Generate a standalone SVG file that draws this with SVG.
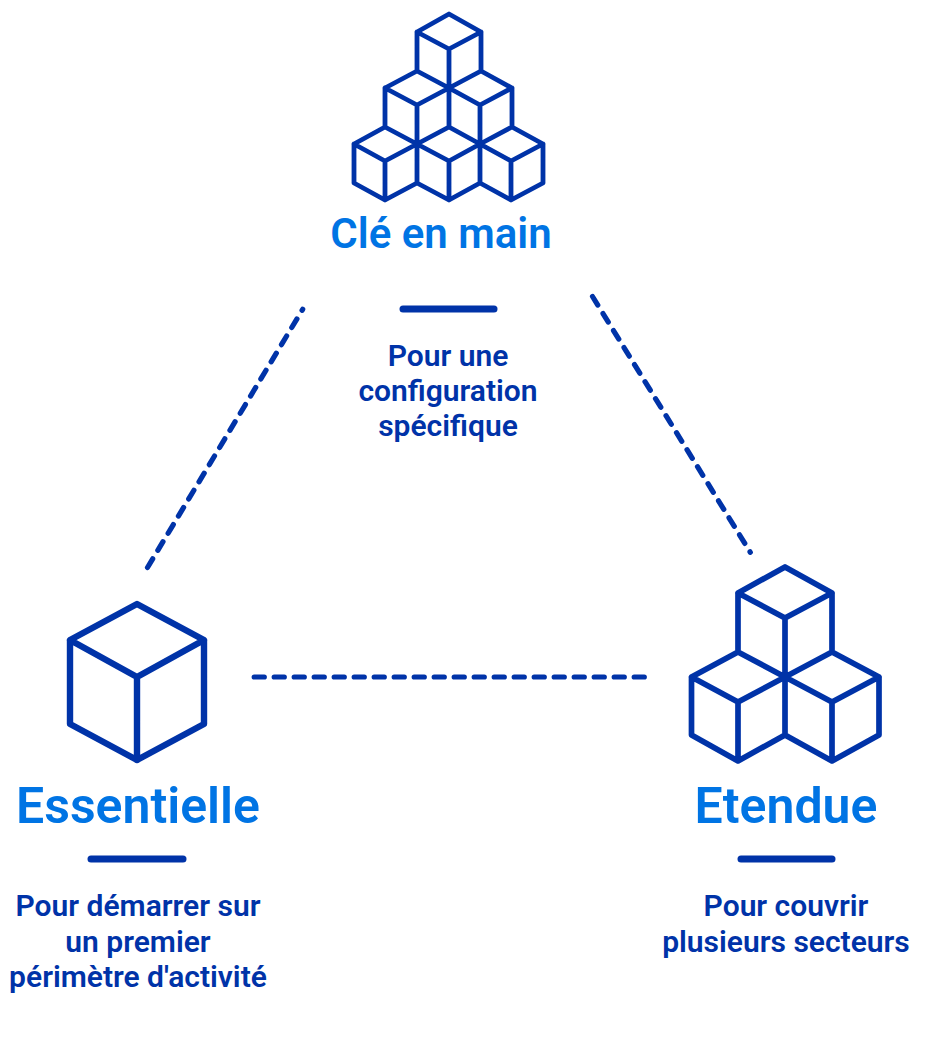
<svg xmlns="http://www.w3.org/2000/svg" width="945" height="1057" viewBox="0 0 945 1057">
<style>
.c{fill:none;stroke:#0033a8;stroke-linejoin:round;stroke-linecap:round}
.s{stroke-width:4.8}.m{stroke-width:5.7}
.d{fill:none;stroke:#0033a8;stroke-width:5.2;stroke-linecap:round;stroke-dasharray:10.1 9.9}
.b{stroke:#0033a8;stroke-width:7;stroke-linecap:round}
text{font-family:Roboto,"Liberation Sans",sans-serif;text-anchor:middle}
.t{fill:#0074e4;font-weight:600}
.p{fill:#0033a8;font-size:30px;font-weight:600}
</style>
<rect width="945" height="1057" fill="#fff"/>
<g id="connectors">
<path class="d" d="M147.5 567.5L302.7 309.3"/>
<path class="d" d="M592.5 296.5L750.3 552.3"/>
<path class="d" d="M254.2 677H645"/>
</g>
<g id="cle-en-main">
<path class="c s" d="M449 14L481 32V71L449 88L417 71V32ZM417 32L449 49L481 32M449 49V127M417 71L385 88V127L417 144L449 127L480 144L512 127V88L481 71M385 88L417 105L449 88L480 105L512 88M417 105V144M480 105V144M385 127L354 144V183L385 200L417 183L449 200L480 183L511 200L543 183V144L512 127M354 144L385 161L417 144L449 161L480 144L511 161L543 144M385 161V200M417 144V183M449 161V200M480 144V183M511 161V200"/>
<text class="t" x="441" y="248" font-size="42">Clé en main</text>
<line class="b" x1="403" y1="309" x2="494" y2="309"/>
<text class="p" x="448" y="366">Pour une</text>
<text class="p" x="448" y="401">configuration</text>
<text class="p" x="448" y="436">spécifique</text>
</g>
<g id="essentielle">
<path class="c" stroke-width="6.4" d="M137 604L204 640V724L137 760L70 724V640ZM70 640L137 677L204 640M137 677V760"/>
<text class="t" x="138" y="823" font-size="50">Essentielle</text>
<line class="b" x1="91" y1="859" x2="183" y2="859"/>
<text class="p" x="138" y="916">Pour démarrer sur</text>
<text class="p" x="138" y="952">un premier</text>
<text class="p" x="138" y="987">périmètre d'activité</text>
</g>
<g id="etendue">
<path class="c m" d="M785 567L832 593V652L785 677L738 652V593ZM738 593L785 618L832 593M785 618V735M738 652L691.500 677V735L738 761L785 735L832 761L879 735V677L832 652M691.500 677L738 702L785 677L832 702L879 677M738 702V761M832 702V761"/>
<text class="t" x="786" y="823" font-size="50">Etendue</text>
<line class="b" x1="741" y1="859" x2="832" y2="859"/>
<text class="p" x="786" y="916">Pour couvrir</text>
<text class="p" x="786" y="952">plusieurs secteurs</text>
</g>
</svg>
